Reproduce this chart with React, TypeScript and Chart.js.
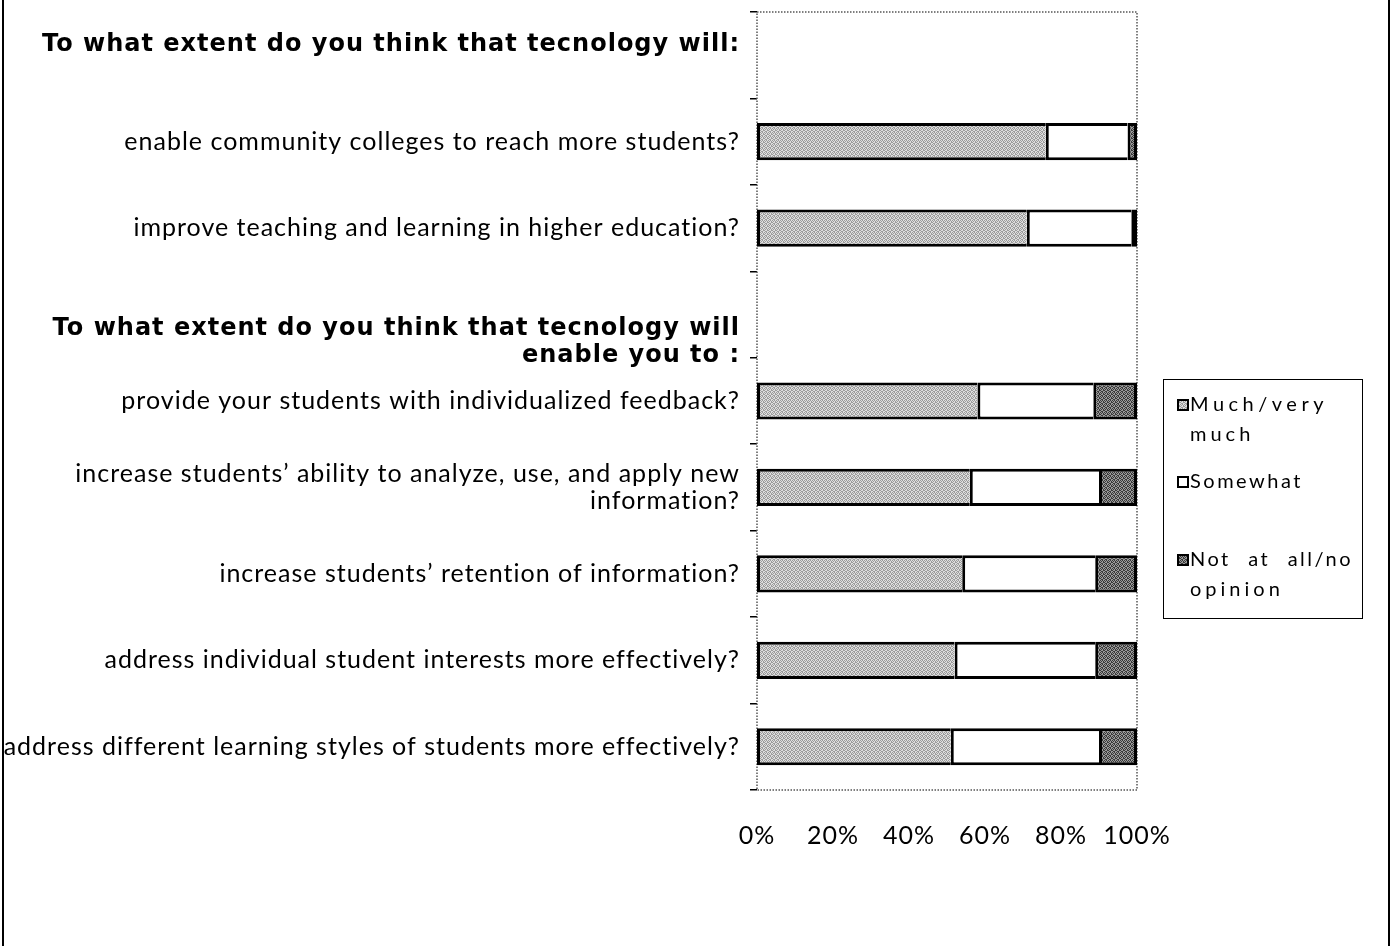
import React, { useEffect, useRef } from 'react';
import { Chart, registerables } from 'chart.js';

Chart.register(...registerables);

// ---------- data ----------
const categories: string[][] = [
  ['To what extent do you think that tecnology will:', ''],
  ['enable community colleges to reach more students?'],
  ['improve teaching and learning in higher education?'],
  ['', '', 'To what extent do you think that tecnology will', 'enable you to :'],
  ['provide your students with individualized feedback?'],
  ['increase students\u2019 ability to analyze, use, and apply new', 'information?'],
  ['increase students\u2019 retention of information?'],
  ['address individual student interests more effectively?'],
  ['address different learning styles of students more effectively?'],
];
const headerRows = [0, 3];
const seriesNames = ['Much/very much', 'Somewhat', 'Not at all/no opinion'];
const muchVeryMuch = [null, 76, 71, null, 58, 56, 54, 52, 51];
const somewhat = [null, 21.5, 27.5, null, 30.5, 34, 35, 37, 39];
const notAtAll = [null, 2.5, 1.5, null, 11.5, 10, 11, 11, 10];
const xMin = 0;
const xMax = 100;
const xStep = 20;

const FONT = 'Lato, "Open Sans", sans-serif';
const HEAD_FONT = '"DejaVu Sans", Lato, sans-serif';
const LS = '1px';

function makePattern(a: string, b: string): CanvasPattern | string {
  const c = document.createElement('canvas');
  c.width = 4;
  c.height = 4;
  const x = c.getContext('2d');
  if (!x) return a;
  x.fillStyle = a;
  x.fillRect(0, 0, 4, 4);
  x.fillStyle = b;
  const dots = [
    [0, 0], [2, 0], [1, 1], [3, 2], [0, 2], [2, 3], [1, 3], [3, 1],
  ];
  dots.forEach(([px, py]) => x.fillRect(px, py, 1, 1));
  const p = x.createPattern(c, 'repeat');
  return p || a;
}

function wrapText(ctx: CanvasRenderingContext2D, text: string, maxW: number): string[] {
  const words = text.split(' ');
  const lines: string[] = [];
  let cur = '';
  for (const w of words) {
    const test = cur ? cur + ' ' + w : w;
    if (ctx.measureText(test).width > maxW && cur) {
      lines.push(cur);
      cur = w;
    } else cur = test;
  }
  if (cur) lines.push(cur);
  return lines;
}

const spacingPlugin = {
  id: 'spacing',
  beforeInit(chart: any) {
    chart.ctx.letterSpacing = LS;
  },
  beforeUpdate(chart: any) {
    chart.ctx.letterSpacing = LS;
  },
  beforeDraw(chart: any) {
    chart.ctx.letterSpacing = LS;
  },
};

const framePlugin = {
  id: 'frame',
  beforeDatasetsDraw(chart: any) {
    const { ctx, chartArea } = chart;
    ctx.save();
    ctx.strokeStyle = '#555';
    ctx.lineWidth = 1.5;
    ctx.setLineDash([1.5, 1.5]);
    ctx.strokeRect(chartArea.left, chartArea.top, chartArea.right - chartArea.left, chartArea.bottom - chartArea.top);
    ctx.restore();
  },
  afterDraw(chart: any) {
    const { ctx, width, height } = chart;
    ctx.save();
    ctx.fillStyle = '#000';
    ctx.fillRect(2, 0, 2, height);
    ctx.fillRect(width - 6, 0, 2, height);
    ctx.restore();
  },
};

const legendPlugin = {
  id: 'boxLegend',
  afterDraw(chart: any) {
    const ctx: CanvasRenderingContext2D = chart.ctx;
    const left = chart.chartArea.right + 26;
    const top = 379;
    const w = 199;
    const h = 239;
    ctx.save();
    ctx.strokeStyle = '#000';
    ctx.lineWidth = 1;
    ctx.strokeRect(left + 0.5, top + 0.5, w, h);
    ctx.font = '20px ' + FONT;
    ctx.textBaseline = 'middle';
    ctx.textAlign = 'left';
    const itemOffsets = [26, 103, 181];
    const textX = left + 27;
    const justifyW = left + w - 9 - textX;
    chart.data.datasets.forEach((ds: any, i: number) => {
      const y0 = top + itemOffsets[i];
      const sx = left + 15;
      ctx.fillStyle = ds.backgroundColor;
      ctx.fillRect(sx, y0 - 5, 10, 10);
      ctx.strokeStyle = '#000';
      ctx.lineWidth = 2;
      ctx.strokeRect(sx, y0 - 5, 10, 10);
      ctx.fillStyle = '#000';
      (ctx as any).letterSpacing = '2.5px';
      (ctx as any).wordSpacing = '0px';
      const lines = wrapText(ctx, ds.label, 150);
      lines.forEach((ln, j) => {
        (ctx as any).letterSpacing = '2.5px';
        (ctx as any).wordSpacing = '0px';
        if (j < lines.length - 1) {
          const base = ctx.measureText(ln).width;
          const gaps = ln.split(' ').length - 1;
          if (gaps > 0) {
            (ctx as any).wordSpacing = Math.max(0, (justifyW - base) / gaps) + 'px';
          } else {
            (ctx as any).letterSpacing = '4.5px';
          }
        } else if (lines.length > 1) {
          (ctx as any).letterSpacing = '4px';
        }
        ctx.fillText(ln, textX, y0 + j * 30);
      });
    });
    ctx.restore();
  },
};

export default function App() {
  const ref = useRef<HTMLCanvasElement>(null);

  useEffect(() => {
    if (!ref.current) return;
    const light = makePattern('#dedede', '#9c9c9c');
    const white = '#ffffff';
    const dark = makePattern('#9a9a9a', '#3a3a3a');
    const values = [muchVeryMuch, somewhat, notAtAll];
    const fills = [light, white, dark];
    const datasets = seriesNames.map((name, i) => ({
      label: name,
      data: values[i],
      backgroundColor: fills[i] as any,
      borderColor: '#000',
      borderWidth: i === 2 ? { top: 3, bottom: 3, left: 3, right: 3 } : { top: 3, bottom: 3, left: 3, right: 0 },
      borderSkipped: false as any,
      barPercentage: 0.43,
      categoryPercentage: 1,
    }));

    const chart = new Chart(ref.current, {
      type: 'bar',
      data: { labels: categories as any, datasets },
      options: {
        indexAxis: 'y',
        responsive: false,
        animation: false,
        devicePixelRatio: 1,
        layout: { padding: { top: 12, right: 257, bottom: 96, left: 0 } },
        plugins: {
          legend: { display: false },
          tooltip: { enabled: false },
          title: { display: false },
        },
        scales: {
          x: {
            stacked: true,
            min: xMin,
            max: xMax,
            grid: { display: false, drawTicks: false, tickLength: 0 },
            border: { display: false },
            ticks: {
              stepSize: xStep,
              padding: 31,
              color: '#000',
              font: { family: FONT, size: 25 },
              callback: (v: any) => v + '%',
            },
            afterFit: (s: any) => {
              s.height = 60;
              s.paddingLeft = 0;
              s.paddingRight = 0;
            },
          },
          y: {
            stacked: true,
            grid: {
              display: true,
              drawOnChartArea: false,
              drawTicks: true,
              tickLength: 7,
              color: '#000',
              lineWidth: 1.5,
              offset: true,
            },
            border: { display: false },
            ticks: {
              padding: 10,
              color: '#000',
              autoSkip: false,
              font: (c: any) =>
                headerRows.includes(c.index)
                  ? { family: HEAD_FONT, size: 24, weight: 'bold', lineHeight: c.index === 0 ? 0.9 : 1.15 }
                  : { family: FONT, size: 25, lineHeight: 1.05 },
            },
            afterFit: (s: any) => {
              s.width = 757;
              s.paddingTop = 0;
              s.paddingBottom = 0;
            },
          },
        },
      },
      plugins: [spacingPlugin, framePlugin, legendPlugin],
    });
    return () => chart.destroy();
  }, []);

  return (
    <div style={{ position: 'absolute', left: 0, top: 0, width: 1394, height: 946, background: '#fff' }}>
      <canvas ref={ref} width={1394} height={946} style={{ display: 'block', width: 1394, height: 946 }} />
    </div>
  );
}
